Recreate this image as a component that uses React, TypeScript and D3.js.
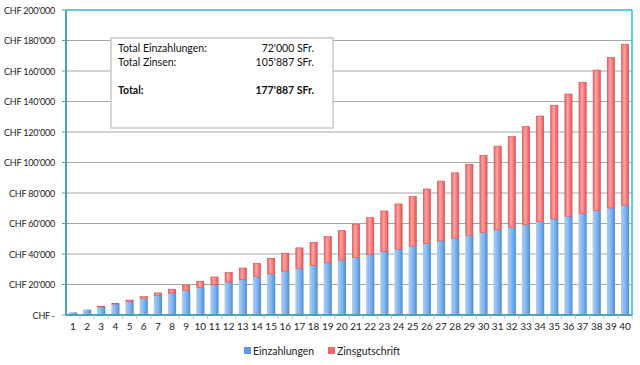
import React, { useEffect, useRef } from "react";
import * as d3 from "d3";

const years = d3.range(1, 41).map(String);

const einzahlungen = [
  1800, 3600, 5400, 7200, 9000, 10800, 12600, 14400, 16200, 18000,
  19800, 21600, 23400, 25200, 27000, 28800, 30600, 32400, 34200, 36000,
  37800, 39600, 41400, 43200, 45000, 46800, 48600, 50400, 52200, 54000,
  55800, 57600, 59400, 61200, 63000, 64800, 66600, 68400, 70200, 72000,
];

const zinsgutschrift = [
  72, 219, 444, 749, 1139, 1617, 2186, 2849, 3611, 4475,
  5447, 6528, 7725, 9043, 10484, 12056, 13762, 15608, 17601, 19745,
  22046, 24512, 27149, 29963, 32961, 36152, 39542, 43139, 46953, 50991,
  55263, 59777, 64544, 69574, 74877, 80464, 86347, 92537, 99046, 105887,
];

const yTicks = [0, 20000, 40000, 60000, 80000, 100000, 120000, 140000, 160000, 180000, 200000];

const summaryLabels = ["Total Einzahlungen:", "Total Zinsen:", "Total:"];
const summaryValues = ["72'000 SFr.", "105'887 SFr.", "177'887 SFr."];

const fmt = (v: number) =>
  v === 0 ? "CHF -" : "CHF " + d3.format(",")(v).replace(/,/g, "'");

const FONT = "Lato, 'Open Sans', sans-serif";

const App = () => {
  const ref = useRef<SVGSVGElement>(null);

  useEffect(() => {
    const width = 640, height = 365;
    const m = { left: 66, right: 8, top: 10, bottom: 50 };
    const svg = d3.select(ref.current).attr("width", width).attr("height", height);
    svg.selectAll("*").remove();

    const defs = svg.append("defs");
    const blue = defs.append("linearGradient").attr("id", "gBlue").attr("x1", 0).attr("x2", 1).attr("y1", 0).attr("y2", 0);
    blue.append("stop").attr("offset", "0%").attr("stop-color", "#a9cdf5");
    blue.append("stop").attr("offset", "45%").attr("stop-color", "#8ab9ee");
    blue.append("stop").attr("offset", "100%").attr("stop-color", "#4a8fdc");
    const red = defs.append("linearGradient").attr("id", "gRed").attr("x1", 0).attr("x2", 1).attr("y1", 0).attr("y2", 0);
    red.append("stop").attr("offset", "0%").attr("stop-color", "#e66a6a");
    red.append("stop").attr("offset", "40%").attr("stop-color", "#ffa3a3");
    red.append("stop").attr("offset", "100%").attr("stop-color", "#e65555");

    const x = d3.scaleBand().domain(years).range([m.left, width - m.right]).paddingInner(0.42).paddingOuter(0.2);
    const y = d3.scaleLinear().domain([0, 200000]).range([height - m.bottom, m.top]);

    // gridlines
    svg.append("g")
      .selectAll("line")
      .data(yTicks.slice(1, -1))
      .enter()
      .append("line")
      .attr("x1", m.left).attr("x2", width - m.right)
      .attr("y1", d => y(d)).attr("y2", d => y(d))
      .attr("stroke", "#a6a6a6").attr("stroke-width", 1);

    // y labels
    svg.append("g")
      .selectAll("text")
      .data(yTicks)
      .enter()
      .append("text")
      .attr("x", 55)
      .attr("y", d => y(d) + 3.5)
      .attr("text-anchor", "end")
      .attr("font-family", FONT)
      .attr("font-size", 9)
      .attr("letter-spacing", -0.2)
      .attr("fill", "#222")
      .text(d => fmt(d));

    // y tick marks
    svg.append("g")
      .selectAll("line")
      .data(yTicks)
      .enter()
      .append("line")
      .attr("x1", m.left - 4).attr("x2", m.left)
      .attr("y1", d => y(d)).attr("y2", d => y(d))
      .attr("stroke", "#4aa3b5");

    const stack = years.map((yr, i) => ({ yr, e: einzahlungen[i], z: zinsgutschrift[i] }));

    svg.append("g")
      .selectAll("rect")
      .data(stack)
      .enter()
      .append("rect")
      .attr("x", d => x(d.yr)!)
      .attr("width", x.bandwidth())
      .attr("y", d => y(d.e))
      .attr("height", d => y(0) - y(d.e))
      .attr("fill", "url(#gBlue)");

    svg.append("g")
      .selectAll("rect")
      .data(stack)
      .enter()
      .append("rect")
      .attr("x", d => x(d.yr)! + 0.5)
      .attr("width", x.bandwidth() - 1)
      .attr("y", d => y(d.e + d.z) + 0.5)
      .attr("height", d => Math.max(y(d.e) - y(d.e + d.z) - 0.5, 0))
      .attr("fill", "url(#gRed)")
      .attr("stroke", "#d94848")
      .attr("stroke-width", 0.6);

    // frame
    svg.append("line").attr("x1", m.left).attr("x2", width - m.right).attr("y1", y(200000)).attr("y2", y(200000))
      .attr("stroke", "#22bfdc").attr("stroke-width", 1.5);
    svg.append("line").attr("x1", width - m.right).attr("x2", width - m.right).attr("y1", y(200000)).attr("y2", y(0))
      .attr("stroke", "#22bfdc").attr("stroke-width", 1.5);
    svg.append("line").attr("x1", m.left).attr("x2", m.left).attr("y1", y(200000)).attr("y2", y(0))
      .attr("stroke", "#4aa3b5").attr("stroke-width", 2);
    svg.append("line").attr("x1", m.left).attr("x2", width - m.right).attr("y1", y(0)).attr("y2", y(0))
      .attr("stroke", "#4aa3b5").attr("stroke-width", 2);

    // x ticks
    const step = x.step();
    svg.append("g")
      .selectAll("line")
      .data(years)
      .enter()
      .append("line")
      .attr("x1", d => x(d)! + x.bandwidth() / 2 + step / 2)
      .attr("x2", d => x(d)! + x.bandwidth() / 2 + step / 2)
      .attr("y1", y(0)).attr("y2", y(0) + 4)
      .attr("stroke", "#b0c4cc");

    svg.append("g")
      .selectAll("text")
      .data(years)
      .enter()
      .append("text")
      .attr("x", d => x(d)! + x.bandwidth() / 2)
      .attr("y", y(0) + 15)
      .attr("text-anchor", "middle")
      .attr("font-family", FONT)
      .attr("font-size", 10)
      .attr("fill", "#222")
      .text(d => d);

    // summary box
    const box = svg.append("g").attr("transform", "translate(111,38)");
    box.append("rect").attr("width", 222).attr("height", 90).attr("fill", "#fff")
      .attr("stroke", "#c8c8c8").attr("stroke-width", 1.5);
    const rowsY = [14, 28, 56];
    summaryLabels.forEach((l, i) => {
      box.append("text").attr("x", 7).attr("y", rowsY[i]).attr("font-family", FONT)
        .attr("font-size", 10.5).attr("font-weight", i === 2 ? "bold" : "normal").attr("fill", "#111").text(l);
      box.append("text").attr("x", 203).attr("y", rowsY[i]).attr("text-anchor", "end").attr("font-family", FONT)
        .attr("font-size", 10.5).attr("font-weight", i === 2 ? "bold" : "normal").attr("fill", "#111").text(summaryValues[i]);
    });

    // legend
    const legend = [
      { name: "Einzahlungen", fill: "#5b9be6", x: 244 },
      { name: "Zinsgutschrift", fill: "#ef6767", x: 328 },
    ];
    const lg = svg.append("g");
    legend.forEach(l => {
      lg.append("rect").attr("x", l.x).attr("y", 347).attr("width", 7).attr("height", 7).attr("fill", l.fill);
      lg.append("text").attr("x", l.x + 9).attr("y", 354.5).attr("font-family", FONT)
        .attr("font-size", 10.5).attr("fill", "#222").text(l.name);
    });
  }, []);

  return (
    <div style={{ position: "absolute", left: 0, top: 0 }}>
      <svg ref={ref}></svg>
    </div>
  );
};

export default App;
